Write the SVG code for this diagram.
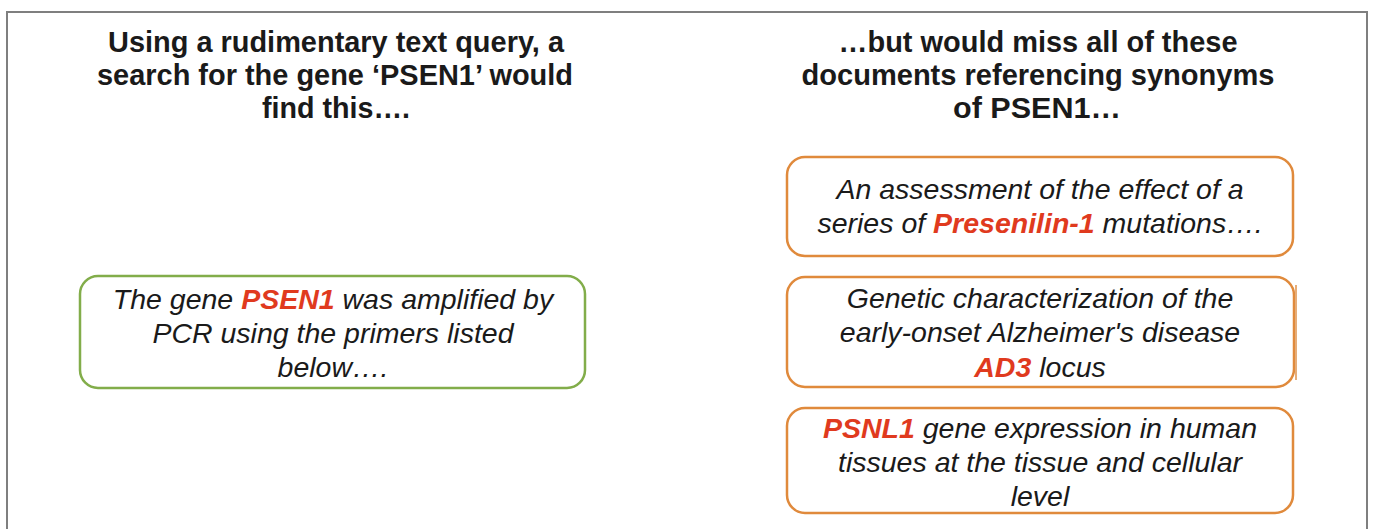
<svg xmlns="http://www.w3.org/2000/svg" width="1373" height="529" viewBox="0 0 1373 529">
  <style>
    .frame { fill: none; stroke: #7f7f7f; stroke-width: 2; }
    .head { font-family: "Liberation Sans", Arial, sans-serif; font-weight: bold; font-size: 29px; fill: #1a1a1a; text-anchor: middle; }
    .body { font-family: "Liberation Sans", Arial, sans-serif; font-style: italic; font-size: 28.5px; fill: #1a1a1a; text-anchor: middle; }
    .hit { fill: #e03a1e; font-weight: bold; }
    .found { fill: #ffffff; stroke: #82ad4a; stroke-width: 2.5; }
    .missed { fill: #ffffff; stroke: #e08a3c; stroke-width: 2.5; }
  </style>

  <rect width="1373" height="529" fill="#ffffff"/>
  <!-- outer frame, open at the bottom -->
  <path class="frame" d="M7 540 V12 H1367 V540"/>

  <g id="heading-left">
    <text class="head" x="336" y="52" textLength="456" lengthAdjust="spacingAndGlyphs">Using a rudimentary text query, a</text>
    <text class="head" x="335" y="85" textLength="476" lengthAdjust="spacingAndGlyphs">search for the gene ‘PSEN1’ would</text>
    <text class="head" x="336" y="118" textLength="148" lengthAdjust="spacingAndGlyphs">find this….</text>
  </g>

  <g id="heading-right">
    <text class="head" x="1038" y="52" textLength="399" lengthAdjust="spacingAndGlyphs">…but would miss all of these</text>
    <text class="head" x="1038" y="85" textLength="473" lengthAdjust="spacingAndGlyphs">documents referencing synonyms</text>
    <text class="head" x="1037" y="118" textLength="168" lengthAdjust="spacingAndGlyphs">of PSEN1…</text>
  </g>

  <g id="connectors"></g>

  <g id="doc-found">
    <rect class="found" x="80" y="276" width="505" height="112" rx="18"/>
    <text class="body" x="333" y="309">The gene <tspan class="hit">PSEN1</tspan> was amplified by</text>
    <text class="body" x="333" y="343">PCR using the primers listed</text>
    <text class="body" x="333" y="377">below….</text>
  </g>

  <g id="doc-synonym-1">
    <rect class="missed" x="787" y="157" width="506" height="99" rx="18"/>
    <text class="body" x="1040" y="199">An assessment of the effect of a</text>
    <text class="body" x="1040" y="233">series of <tspan class="hit">Presenilin-1</tspan> mutations….</text>
  </g>

  <g id="doc-synonym-2">
    <rect class="missed" x="787" y="277" width="507" height="110" rx="18"/>
    <!-- doubled right edge -->
    <line x1="1296" y1="285" x2="1296" y2="380" stroke="#e6ad78" stroke-width="2"/>
    <text class="body" x="1040" y="308">Genetic characterization of the</text>
    <text class="body" x="1040" y="342">early-onset Alzheimer's disease</text>
    <text class="body" x="1040" y="377"><tspan class="hit">AD3</tspan> locus</text>
  </g>

  <g id="doc-synonym-3">
    <rect class="missed" x="787" y="408" width="506" height="105" rx="18"/>
    <text class="body" x="1040" y="438"><tspan class="hit">PSNL1</tspan> gene expression in human</text>
    <text class="body" x="1040" y="472">tissues at the tissue and cellular</text>
    <text class="body" x="1040" y="506">level</text>
  </g>
</svg>
